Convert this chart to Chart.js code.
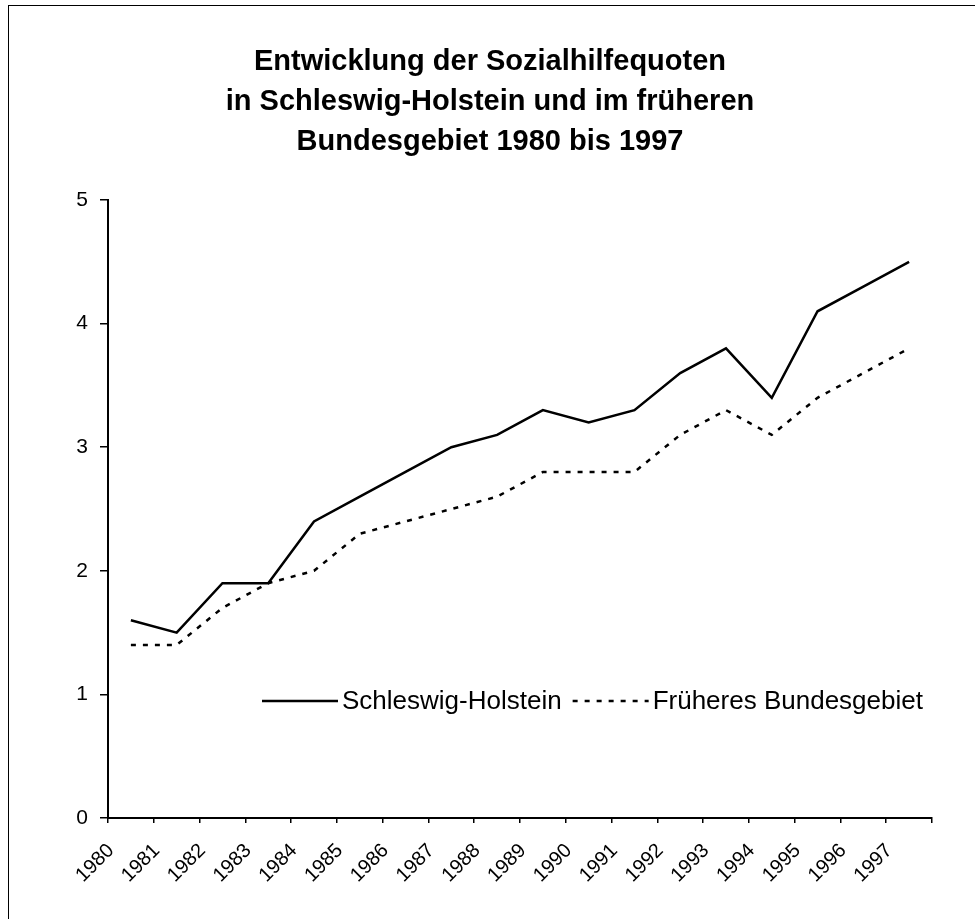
<!DOCTYPE html>
<html>
<head>
<meta charset="utf-8">
<script src="https://cdn.jsdelivr.net/npm/chart.js@4.4.1/dist/chart.umd.min.js"></script>
<style>
  html, body { margin: 0; padding: 0; background: #fff; }
  #wrap { position: relative; width: 975px; height: 919px; overflow: hidden; }
  /* scanned page frame, only top and left edges are visible */
  #frame {
    position: absolute; left: 8px; top: 5px; right: -10px; bottom: -10px;
    border-left: 1.5px solid #000; border-top: 1.5px solid #000;
    pointer-events: none;
  }
</style>
</head>
<body>
<div id="wrap">
  <canvas id="chart" width="975" height="919"></canvas>
  <div id="frame"></div>
</div>
<script>
// ─── Data ─────────────────────────────────────────────────────────────────────

const years = [
  '1980', '1981', '1982', '1983', '1984', '1985', '1986', '1987', '1988',
  '1989', '1990', '1991', '1992', '1993', '1994', '1995', '1996', '1997',
];

// Sozialhilfequote in %
const schleswigHolstein = [
  1.6, 1.5, 1.9, 1.9, 2.4, 2.6, 2.8, 3.0, 3.1,
  3.3, 3.2, 3.3, 3.6, 3.8, 3.4, 4.1, 4.3, 4.5,
];
const fruehBundesgebiet = [
  1.4, 1.4, 1.7, 1.9, 2.0, 2.3, 2.4, 2.5, 2.6,
  2.8, 2.8, 2.8, 3.1, 3.3, 3.1, 3.4, 3.6, 3.8,
];

const seriesNames = ['Schleswig-Holstein', 'Früheres Bundesgebiet'];

const titleLines = [
  'Entwicklung der Sozialhilfequoten',
  'in Schleswig-Holstein und im früheren',
  'Bundesgebiet 1980 bis 1997',
];

const yMin = 0;
const yMax = 5;

// ─── Legend drawn inside the plot, on one row ─────────────────────────────────

const FONT = '"Liberation Sans", Arial, Helvetica, sans-serif';

const inlineLegend = {
  id: 'inlineLegend',
  afterDatasetsDraw(chart, args, opts) {
    const { ctx } = chart;
    ctx.save();
    ctx.font = `${opts.size}px ${FONT}`;
    ctx.fillStyle = '#000';
    ctx.textBaseline = 'middle';
    let x = opts.x;
    const y = opts.y;
    chart.data.datasets.forEach(ds => {
      ctx.beginPath();
      ctx.setLineDash(ds.borderDash || []);
      ctx.lineWidth = ds.borderWidth;
      ctx.strokeStyle = ds.borderColor;
      ctx.moveTo(x, y);
      ctx.lineTo(x + opts.sample, y);
      ctx.stroke();
      x += opts.sample + 4;
      ctx.fillText(ds.label, x, y + 1);
      x += ctx.measureText(ds.label).width + 11;
    });
    ctx.restore();
  },
};

// ─── Chart ────────────────────────────────────────────────────────────────────

const ctx = document.getElementById('chart').getContext('2d');

new Chart(ctx, {
  type: 'line',
  data: {
    labels: years,
    datasets: [
      {
        label:       seriesNames[0],
        data:        schleswigHolstein,
        borderColor: '#000',
        borderWidth: 2.5,
        pointRadius: 0,
        tension:     0,
        fill:        false,
      },
      {
        label:       seriesNames[1],
        data:        fruehBundesgebiet,
        borderColor: '#000',
        borderWidth: 2.5,
        borderDash:  [5, 7],
        pointRadius: 0,
        tension:     0,
        fill:        false,
      },
    ],
  },
  options: {
    responsive: false,
    animation:  false,
    layout: { padding: { left: 48, right: 43, top: 0, bottom: 0 } },
    scales: {
      x: {
        type:   'category',
        offset: true,
        grid: {
          offset:          true,
          drawOnChartArea: false,
          drawTicks:       true,
          tickLength:      5,
          color:           '#000',
          lineWidth:       1.5,
        },
        border: { display: true, color: '#000', width: 2 },
        ticks: {
          color:       '#000',
          font:        { family: FONT, size: 20 },
          minRotation: 45,
          maxRotation: 45,
          autoSkip:    false,
          labelOffset: -20,
          padding:     16,
        },
        afterFit(scale) { scale.height = 101; },
      },
      y: {
        min: yMin,
        max: yMax,
        grid: {
          drawOnChartArea: false,
          drawTicks:       true,
          tickLength:      8,
          color:           '#000',
          lineWidth:       1.5,
        },
        border: { display: true, color: '#000', width: 2 },
        ticks: {
          stepSize: 1,
          color:    '#000',
          font:     { family: FONT, size: 21 },
          padding:  12,
        },
        afterFit(scale) { scale.width = 60; },
      },
    },
    plugins: {
      legend:  { display: false },
      tooltip: { enabled: false },
      title: {
        display: true,
        text:    titleLines,
        color:   '#000',
        font:    { family: FONT, size: 29, weight: 'bold', lineHeight: 1.38 },
        padding: { top: 42, bottom: 38 },
      },
      inlineLegend: { x: 262, y: 701, sample: 76, size: 26 },
    },
  },
  plugins: [inlineLegend],
});
</script>
</body>
</html>
